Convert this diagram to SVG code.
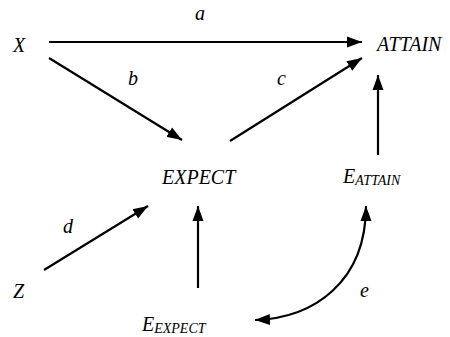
<svg xmlns="http://www.w3.org/2000/svg" width="450" height="337" viewBox="0 0 450 337">
<defs>
<style>
text{font-family:'Liberation Serif','Times New Roman',serif;font-style:italic;font-size:20px;fill:#000}
.sub{font-size:14px}
.edge{stroke:#000;stroke-width:2.2;fill:none;marker-end:url(#ah)}
</style>
<marker id="ah" markerUnits="userSpaceOnUse" markerWidth="16" markerHeight="12" refX="15" refY="5.5" orient="auto-start-reverse" viewBox="0 0 16 11">
<path d="M0,0 L15,5.5 L0,11 z" fill="#000"/>
</marker>
</defs>
<rect width="450" height="337" fill="#fff"/>
<g id="connectors">
<line class="edge" x1="49" y1="42" x2="362" y2="42"/>
<line class="edge" x1="49" y1="58" x2="182" y2="140"/>
<line class="edge" x1="230" y1="141" x2="362" y2="58"/>
<line class="edge" x1="378" y1="155" x2="378" y2="75"/>
<line class="edge" x1="44" y1="270" x2="148" y2="206"/>
<line class="edge" x1="198" y1="288" x2="198" y2="206"/>
<path class="edge" style="marker-start:url(#ah)" d="M366,206 C366,282 314,318 255,320"/>
<text x="195" y="20">a</text>
<text x="128" y="85">b</text>
<text x="277" y="85">c</text>
<text x="63" y="233">d</text>
<text x="360" y="297">e</text>
</g>
<g id="X"><text x="13" y="52">X</text></g>
<g id="ATTAIN"><text x="377" y="51">ATTAIN</text></g>
<g id="EXPECT"><text x="162" y="184">EXPECT</text></g>
<g id="E_ATTAIN"><text x="343" y="183">E<tspan class="sub" dy="2">ATTAIN</tspan></text></g>
<g id="Z"><text x="13" y="298">Z</text></g>
<g id="E_EXPECT"><text x="142" y="331">E<tspan class="sub" dy="2">EXPECT</tspan></text></g>
</svg>
